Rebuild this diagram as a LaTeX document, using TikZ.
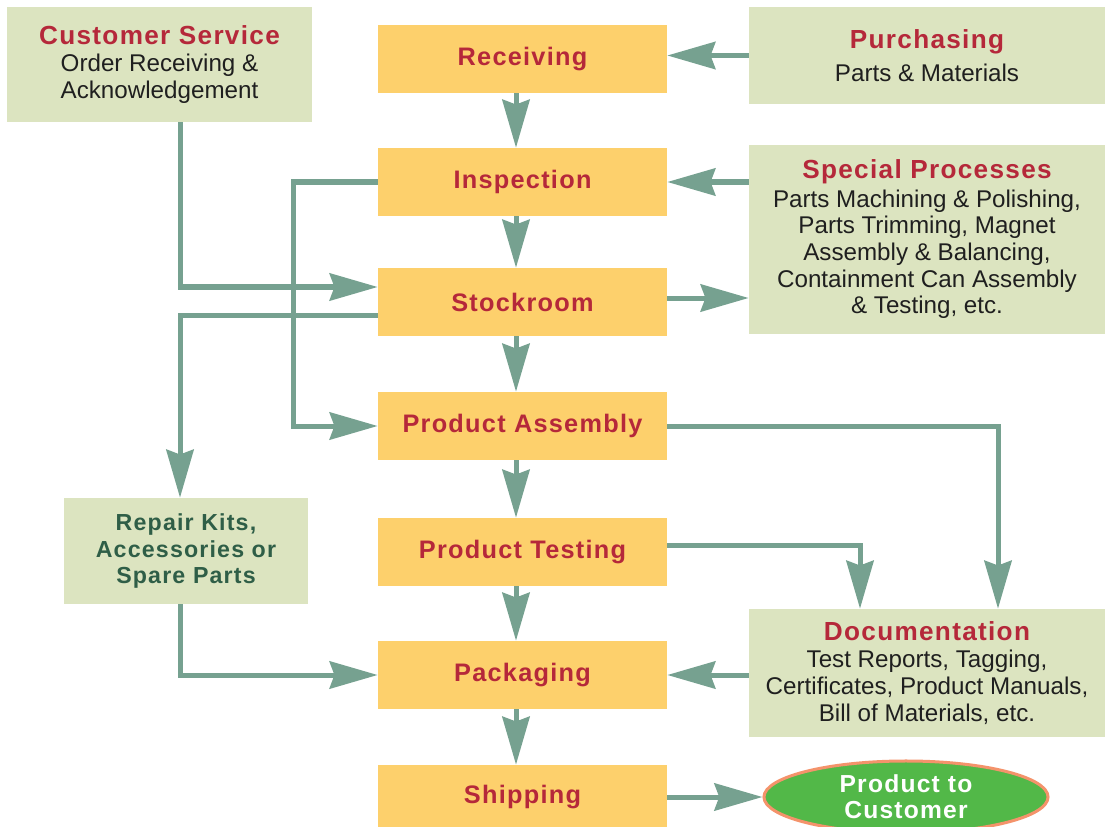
\documentclass[tikz,border=0pt]{standalone}
\usepackage{fontspec}
\setmainfont{Liberation Sans}
\newfontfamily\headfont[LetterSpace=5]{Liberation Sans}
\usetikzlibrary{arrows.meta,calc,shapes.geometric}

\definecolor{stagefill}{HTML}{FDD06C}
\definecolor{deptfill}{HTML}{DCE4C0}
\definecolor{headred}{HTML}{B5283A}
\definecolor{flowgreen}{HTML}{76A190}
\definecolor{kitgreen}{HTML}{2F5E47}
\definecolor{custfill}{HTML}{52B848}
\definecolor{custline}{HTML}{F4936B}

\newcommand{\head}[1]{{\headfont\bfseries\fontsize{18.6}{21}\selectfont\color{headred}#1}}

\tikzset{
	stagebox/.style={fill=stagefill, minimum width=7.225cm, minimum height=1.7cm, inner sep=0pt,
		text=headred, font=\headfont\bfseries\fontsize{18}{20}\selectfont},
	deptbox/.style={fill=deptfill, inner sep=0pt, align=center, text=black!88,
		font=\fontsize{17.2}{19}\selectfont},
	flow/.style={draw=flowgreen, line width=0.125cm,
		-{Stealth[length=1.2cm,width=0.68cm,inset=0.12cm]}},
}

\begin{document}
\begin{tikzpicture}[x=0.025cm, y=-0.025cm]
			%%%%% START %%%%%
			\useasboundingbox (0, 0) rectangle (1105, 827);
			
			% lanes for the bent connectors
			\coordinate (spine) at (516, 0);
			\coordinate (lane) at (180, 0);
			\coordinate (bypass) at (293, 0);
			\coordinate (testlane) at (860, 0);
			\coordinate (assemlane) at (998, 0);
			
			% main line
			\node[stagebox] (recv) at (522.5, 59) {Receiving};
			\node[stagebox] (insp) at (522.5, 182) {Inspection};
			\node[stagebox] (stock) at (522.5, 302) {Stockroom};
			\node[stagebox] (assem) at (522.5, 426) {Product Assembly};
			\node[stagebox] (test) at (522.5, 552) {Product Testing};
			\node[stagebox] (pack) at (522.5, 675) {Packaging};
			\node[stagebox, minimum height=1.6cm] (ship) at (522.5, 797) {Shipping};
			
			% side boxes
			\node[deptbox, minimum width=7.625cm, minimum height=2.875cm] (cust) at (159.5, 64.5)
				{\head{Customer Service}\\Order Receiving \&\\Acknowledgement};
			\node[deptbox, minimum width=8.9cm, minimum height=2.425cm] (purch) at (927, 55.5)
				{\head{Purchasing}\\[4pt]Parts \& Materials};
			\node[deptbox, minimum width=8.9cm, minimum height=4.725cm] (spec) at (927, 239.5)
				{\head{Special Processes}\\[1pt]Parts Machining \& Polishing,\\Parts Trimming, Magnet\\
				Assembly \& Balancing,\\Containment Can Assembly\\\& Testing, etc.};
			\node[deptbox, minimum width=6.1cm, minimum height=2.65cm, text=kitgreen,
				font=\headfont\bfseries\fontsize{16.5}{19}\selectfont] (kits) at (186, 551)
				{Repair Kits,\\Accessories or\\Spare Parts};
			\node[deptbox, minimum width=8.9cm, minimum height=3.2cm] (doc) at (927, 673)
				{\head{Documentation}\\Test Reports, Tagging,\\Certificates, Product Manuals,\\
				Bill of Materials, etc.};
			
			\node[ellipse, fill=custfill, draw=custline, line width=0.075cm, minimum width=7.1cm,
				minimum height=1.8cm, inner sep=0pt, align=center, text=white,
				font=\headfont\bfseries\fontsize{17.5}{18.6}\selectfont] (prod) at (906, 797)
				{Product to\\Customer};
			
			% straight down
			\draw[flow] (recv.south -| spine) -- (insp.north -| spine);
			\draw[flow] (insp.south -| spine) -- (stock.north -| spine);
			\draw[flow] (stock.south -| spine) -- (assem.north -| spine);
			\draw[flow] (assem.south -| spine) -- (test.north -| spine);
			\draw[flow] (test.south -| spine) -- (pack.north -| spine);
			\draw[flow] (pack.south -| spine) -- (ship.north -| spine);
			
			% from the right
			\draw[flow] (purch.west) -- (purch.west -| recv.east);
			\draw[flow] (insp.east -| spec.west) -- (insp.east);
			\draw[flow] ($(stock.east)+(0,-4)$) -- ($(stock.east -| spec.west)+(0,-4)$);
			\draw[flow] (pack.east -| doc.west) -- (pack.east);
			\draw[flow] (ship.east) -- (prod.west);
			
			% bent ones
			\draw[flow] (cust.south -| lane) |- ($(stock.west)+(0,-15)$);
			\draw[flow] (insp.west) -- (insp.west -| bypass) |- (assem.west);
			\draw[flow] ($(stock.west)+(0,13)$) -| (kits.north -| lane);
			\draw[flow] (assem.east) -| (doc.north -| assemlane);
			\draw[flow] ($(test.east)+(0,-7)$) -| (doc.north -| testlane);
			\draw[flow] (kits.south -| lane) |- (pack.west);
			
			%%%%% END %%%%%
		\end{tikzpicture}
\end{document}
